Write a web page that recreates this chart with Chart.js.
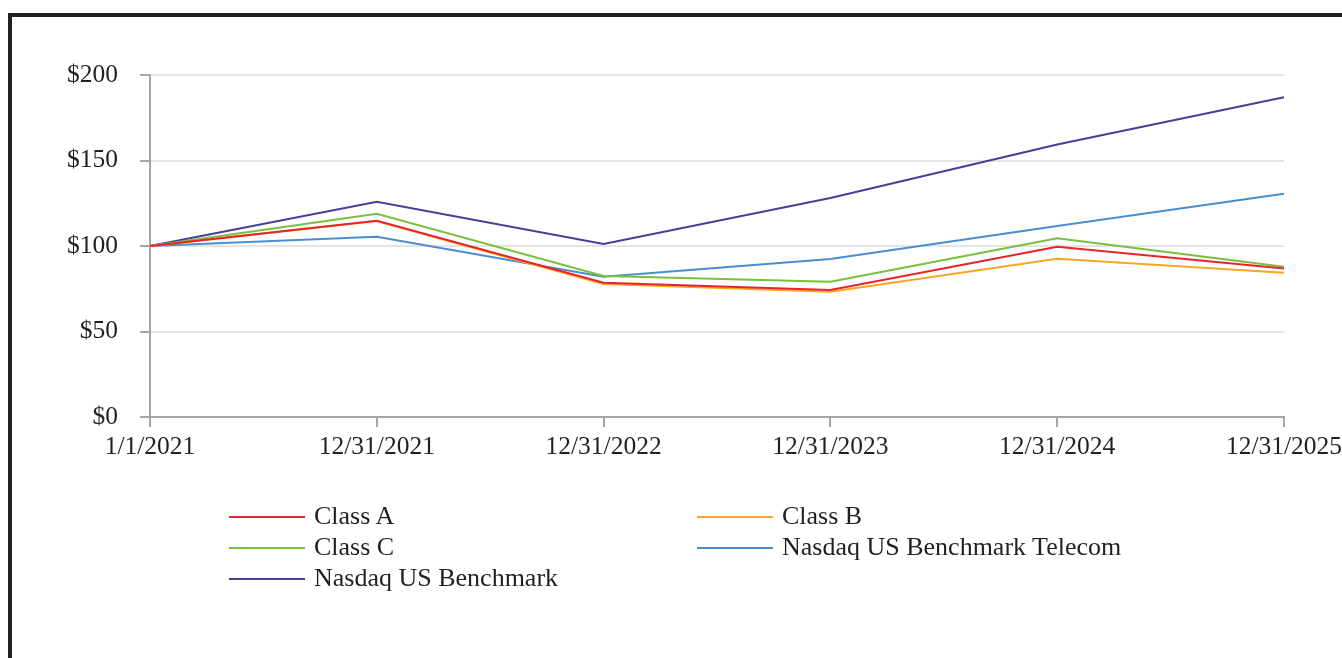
<!DOCTYPE html>
<html>
<head>
<meta charset="utf-8">
<script src="https://cdn.jsdelivr.net/npm/chart.js@4"></script>
<style>
  body { margin: 0; width: 1342px; height: 658px; overflow: hidden; background: #fff; position: relative; }
  .frame { position: absolute; left: 8px; top: 13px; width: 1400px; height: 700px; border: 4px solid #231f20; box-sizing: border-box; }
  #chart { position: absolute; left: 0; top: 0; }
  .legend { position: absolute; font-family: "Liberation Serif", "Times New Roman", serif; font-size: 26px; color: #231f20; }
  .item { position: absolute; white-space: nowrap; height: 31px; line-height: 31px; }
  .item .swatch { position: absolute; left: 0; top: 16px; width: 76px; height: 2px; }
  .item span { position: absolute; left: 85px; top: 0; }
</style>
</head>
<body>
<div class="frame"></div>
<canvas id="chart" width="1400" height="658"></canvas>
<div class="legend" id="legend"></div>
<script>
// chart data
const dates = ["1/1/2021", "12/31/2021", "12/31/2022", "12/31/2023", "12/31/2024", "12/31/2025"];
const classA = [100, 114.8, 78.5, 74.3, 99.6, 86.9];
const classB = [100, 114.6, 77.8, 73.3, 92.6, 84.4];
const classC = [100, 118.9, 82.5, 79.1, 104.5, 87.9];
const telecom = [100, 105.4, 82.0, 92.4, 111.7, 130.6];
const benchmark = [100, 125.9, 101.2, 128.1, 159.3, 187.0];

const series = [
  { label: "Class A", data: classA, color: "#e8232a" },
  { label: "Class B", data: classB, color: "#f6a623" },
  { label: "Class C", data: classC, color: "#7bbf3f" },
  { label: "Nasdaq US Benchmark Telecom", data: telecom, color: "#4a8ed2" },
  { label: "Nasdaq US Benchmark", data: benchmark, color: "#453f98" }
];

const tickFont = { family: "Liberation Serif", size: 25.5 };

new Chart(document.getElementById("chart"), {
  type: "line",
  data: {
    labels: dates,
    datasets: series.map(s => ({
      label: s.label,
      data: s.data,
      borderColor: s.color,
      backgroundColor: s.color,
      borderWidth: 2,
      pointRadius: 0,
      tension: 0
    }))
  },
  options: {
    responsive: false,
    animation: false,
    devicePixelRatio: 1,
    layout: { padding: { left: 0, top: 75, right: 116, bottom: 0 } },
    plugins: {
      legend: { display: false },
      tooltip: { enabled: false }
    },
    scales: {
      x: {
        offset: false,
        grid: { drawOnChartArea: false, drawTicks: true, tickLength: 10, tickColor: "#a6a6a6", lineWidth: 2 },
        border: { color: "#a6a6a6", width: 2 },
        ticks: { font: tickFont, color: "#231f20", padding: 5, maxRotation: 0, autoSkip: false },
        afterFit: (scale) => { scale.height = 241; }
      },
      y: {
        min: 0,
        max: 200,
        grid: { color: "#e4e4e4", lineWidth: 2, tickLength: 10, tickColor: "#a6a6a6" },
        border: { color: "#a6a6a6", width: 2 },
        ticks: {
          stepSize: 50,
          font: tickFont,
          color: "#231f20",
          padding: 22,
          callback: (v) => "$" + v
        },
        afterFit: (scale) => { scale.width = 150; }
      }
    }
  }
});

// legend, two columns like the original
const legend = document.getElementById("legend");
const colX = [229, 697];
const rowY = [500, 531, 562];
series.forEach((s, i) => {
  const item = document.createElement("div");
  item.className = "item";
  item.style.left = colX[i % 2] + "px";
  item.style.top = rowY[Math.floor(i / 2)] + "px";
  item.innerHTML = `<div class="swatch" style="background:${s.color}"></div><span>${s.label}</span>`;
  legend.appendChild(item);
});
</script>
</body>
</html>
